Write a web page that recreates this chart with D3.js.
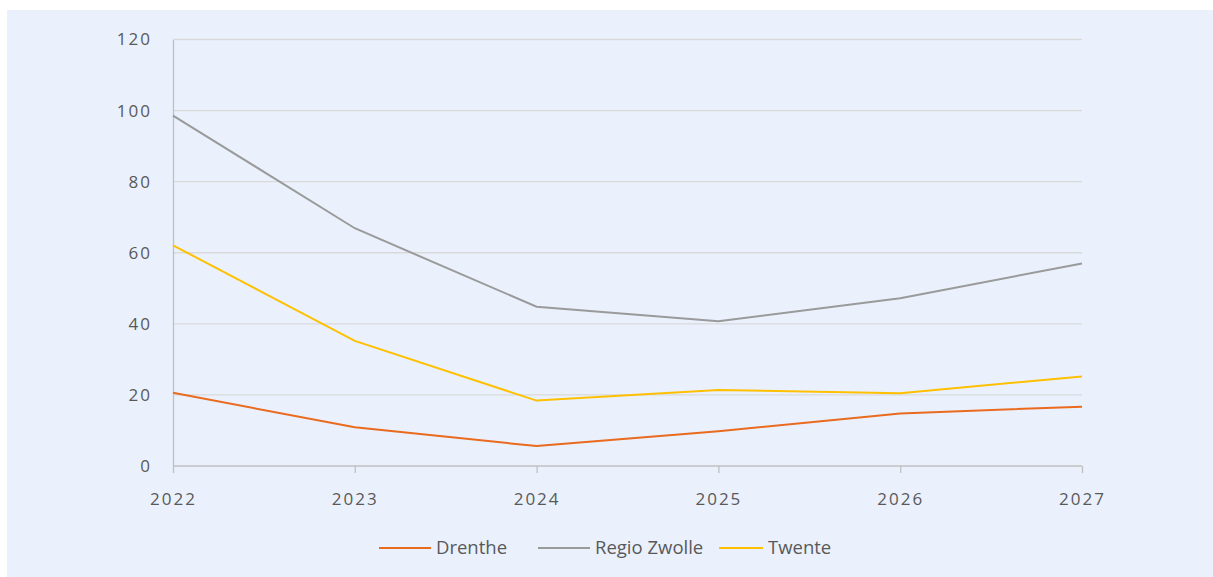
<!DOCTYPE html>
<html><head><meta charset="utf-8">
<script src="https://cdn.jsdelivr.net/npm/d3@7"></script>
<style>
html,body{margin:0;padding:0;background:#fff;}
svg{display:block;}
text{font-family:"Open Sans","Lato",sans-serif;fill:#595959;}
</style></head>
<body>
<svg id="chart" width="1213" height="577"></svg>
<script>
const years = [2022, 2023, 2024, 2025, 2026, 2027];
const yTicks = [0, 20, 40, 60, 80, 100, 120];
const seriesNames = ["Drenthe", "Regio Zwolle", "Twente"];
const drenthe = [20.6, 10.9, 5.6, 9.8, 14.8, 16.7];
const regioZwolle = [98.6, 66.9, 44.8, 40.7, 47.2, 57.0];
const twente = [62.1, 35.2, 18.4, 21.4, 20.5, 25.2];
const colors = ["#EA6A1E", "#9A9A9A", "#FFC000"];

const series = [drenthe, regioZwolle, twente].map((v, i) => ({name: seriesNames[i], values: v, color: colors[i]}));

const svg = d3.select("#chart");
svg.append("rect").attr("x", 7).attr("y", 10).attr("width", 1206).attr("height", 567).attr("fill", "#EAF1FD");

const x = d3.scalePoint().domain(years).range([173, 1082]);
const y = d3.scaleLinear().domain([0, 120]).range([466, 39.5]);

// gridlines
svg.append("g").selectAll("line").data(yTicks.filter(d => d > 0)).join("line")
  .attr("x1", 173).attr("x2", 1082)
  .attr("y1", d => y(d)).attr("y2", d => y(d))
  .attr("stroke", "#D9D9D9").attr("stroke-width", 1.3);

// y axis
const yAxis = svg.append("g").attr("transform", "translate(173,0)")
  .call(d3.axisLeft(y).tickValues(yTicks).tickSize(0).tickPadding(21));
yAxis.select(".domain").attr("stroke", "#BFBFBF").attr("stroke-width", 1.3);
yAxis.selectAll("text").style("font-size", "17px").attr("fill", "#595959").style("letter-spacing", "2px");

// x axis
const xAxis = svg.append("g").attr("transform", "translate(0,466)")
  .call(d3.axisBottom(x).tickSize(7).tickPadding(20).tickFormat(d => d));
xAxis.select(".domain").attr("stroke", "#BFBFBF").attr("stroke-width", 1.3).attr("d", "M173,0H1082");
xAxis.selectAll(".tick line").attr("stroke", "#BFBFBF").attr("stroke-width", 1.3);
xAxis.selectAll("text").style("font-size", "17px").attr("fill", "#595959").style("letter-spacing", "2px");

// lines
const line = d3.line().x((d, i) => x(years[i])).y(d => y(d));
svg.append("g").selectAll("path").data(series).join("path")
  .attr("d", d => line(d.values))
  .attr("fill", "none")
  .attr("stroke", d => d.color)
  .attr("stroke-width", 2);

// legend
const legendPos = [379, 538, 719];
const lineLen = [52, 52, 44];
const lg = svg.append("g").selectAll("g").data(series).join("g")
  .attr("transform", (d, i) => `translate(${legendPos[i]},548)`);
lg.append("line").attr("x1", 0).attr("x2", (d, i) => lineLen[i]).attr("y1", 0).attr("y2", 0)
  .attr("stroke", d => d.color).attr("stroke-width", 2);
lg.append("text").attr("x", (d, i) => lineLen[i] + 5).attr("y", 0).attr("dy", "0.35em")
  .style("font-size", "18.5px").text(d => d.name);
</script>
</body></html>
